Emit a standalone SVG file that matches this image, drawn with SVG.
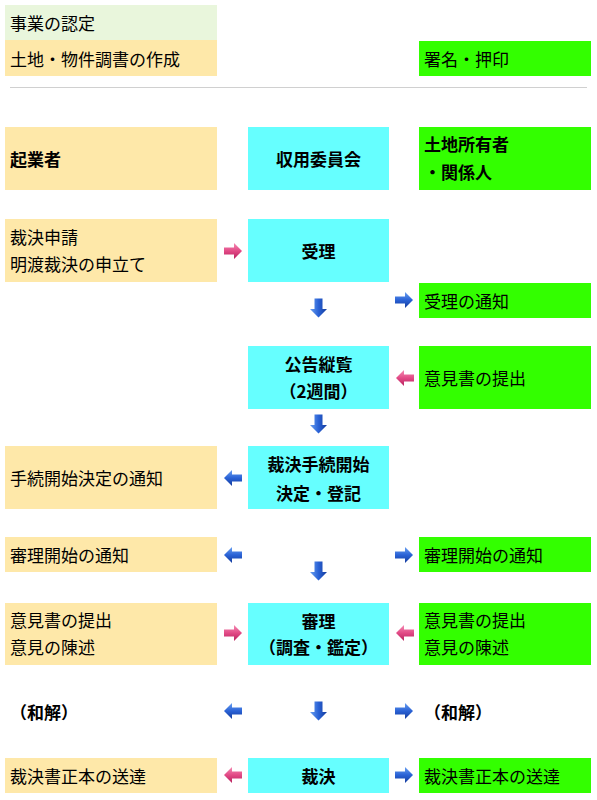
<svg xmlns="http://www.w3.org/2000/svg" width="597" height="800" viewBox="0 0 597 800">
<style>
text{font-family:"Noto Sans CJK JP","Noto Sans",sans-serif;font-size:17px;fill:#000;dominant-baseline:central}
.b{font-weight:bold}
.c{text-anchor:middle}
.y{fill:#fee8a9}
.g{fill:#33ff00}
.k{fill:#66ffff}
.lg{fill:#e9f6dc}
</style>
<defs>
<linearGradient id="pk" x1="0" y1="0" x2="0" y2="1">
<stop offset="0" stop-color="#f48cb4"/><stop offset="0.5" stop-color="#e24a86"/><stop offset="1" stop-color="#b8225e"/>
</linearGradient>
<linearGradient id="bl" x1="0" y1="0" x2="0" y2="1">
<stop offset="0" stop-color="#6aa0f0"/><stop offset="0.5" stop-color="#2a62d6"/><stop offset="1" stop-color="#143c9c"/>
</linearGradient>
<linearGradient id="bld" x1="0" y1="0" x2="1" y2="0">
<stop offset="0" stop-color="#6aa0f0"/><stop offset="0.5" stop-color="#2a62d6"/><stop offset="1" stop-color="#143c9c"/>
</linearGradient>
<polygon id="ar" points="-9,-3.5 1,-3.5 1,-8 9,0 1,8 1,3.5 -9,3.5"/>
<polygon id="ad" points="-4,-9.5 4,-9.5 4,1 8.5,1 0,9.5 -8.5,1 -4,1"/>
</defs>

<g id="n-jigyo"><rect class="lg" x="5" y="5" width="212" height="35"/><text x="10" y="22">事業の認定</text></g>
<g id="n-chosho"><rect class="y" x="5" y="40" width="212" height="36"/><text x="10" y="58">土地・物件調書の作成</text></g>
<g id="n-shomei"><rect class="g" x="419" y="41" width="172" height="35"/><text x="424" y="58">署名・押印</text></g>
<line x1="10" y1="87.5" x2="587" y2="87.5" stroke="#d0d0d0" stroke-width="1"/>

<g id="n-kigyo"><rect class="y" x="5" y="127" width="212" height="63"/><text class="b" x="10" y="158">起業者</text></g>
<g id="n-iinkai"><rect class="k" x="248" y="127" width="141" height="63"/><text class="b c" x="318.5" y="158">収用委員会</text></g>
<g id="n-shoyu"><rect class="g" x="419" y="127" width="172" height="63"/><text class="b" x="424" y="143">土地所有者</text><text class="b" x="424" y="171">・関係人</text></g>

<g id="n-shinsei"><rect class="y" x="5" y="219" width="212" height="63"/><text x="10" y="236">裁決申請</text><text x="10" y="263">明渡裁決の申立て</text></g>
<g id="n-juri"><rect class="k" x="248" y="219" width="141" height="63"/><text class="b c" x="318.5" y="250">受理</text></g>
<g id="n-juri-tsuchi"><rect class="g" x="419" y="283" width="172" height="35"/><text x="424" y="300">受理の通知</text></g>

<g id="n-koukoku"><rect class="k" x="248" y="346" width="141" height="63"/><text class="b c" x="318.5" y="363">公告縦覧</text><text class="b c" x="318.5" y="390">（2週間）</text></g>
<g id="n-iken1"><rect class="g" x="419" y="346" width="172" height="63"/><text x="424" y="377">意見書の提出</text></g>

<g id="n-kaishi-tsuchi"><rect class="y" x="5" y="446" width="212" height="63"/><text x="10" y="477">手続開始決定の通知</text></g>
<g id="n-kaishi"><rect class="k" x="248" y="446" width="141" height="63"/><text class="b c" x="318.5" y="463">裁決手続開始</text><text class="b c" x="318.5" y="492">決定・登記</text></g>

<g id="n-shinri-tsuchi-l"><rect class="y" x="5" y="537" width="212" height="35"/><text x="10" y="554">審理開始の通知</text></g>
<g id="n-shinri-tsuchi-r"><rect class="g" x="419" y="537" width="172" height="35"/><text x="424" y="554">審理開始の通知</text></g>

<g id="n-iken-l"><rect class="y" x="5" y="603" width="212" height="62"/><text x="10" y="619">意見書の提出</text><text x="10" y="646">意見の陳述</text></g>
<g id="n-shinri"><rect class="k" x="248" y="603" width="141" height="62"/><text class="b c" x="318.5" y="620">審理</text><text class="b c" x="318.5" y="646">（調査・鑑定）</text></g>
<g id="n-iken-r"><rect class="g" x="419" y="603" width="172" height="62"/><text x="424" y="619">意見書の提出</text><text x="424" y="646">意見の陳述</text></g>

<g id="n-wakai-l"><text class="b" x="10" y="711">（和解）</text></g>
<g id="n-wakai-r"><text class="b" x="424" y="711">（和解）</text></g>

<g id="n-sotatsu-l"><rect class="y" x="5" y="758" width="212" height="35"/><text x="10" y="775">裁決書正本の送達</text></g>
<g id="n-saiketsu"><rect class="k" x="248" y="758" width="141" height="35"/><text class="b c" x="318.5" y="775">裁決</text></g>
<g id="n-sotatsu-r"><rect class="g" x="419" y="758" width="172" height="35"/><text x="424" y="775">裁決書正本の送達</text></g>

<g id="connectors">
<use href="#ar" fill="url(#pk)" transform="translate(233,251)"/>
<use href="#ad" fill="url(#bld)" transform="translate(318.5,308)"/>
<use href="#ar" fill="url(#bl)" transform="translate(404,300)"/>
<use href="#ar" fill="url(#pk)" transform="translate(405,378) scale(-1,1)"/>
<use href="#ad" fill="url(#bld)" transform="translate(318.5,424)"/>
<use href="#ar" fill="url(#bl)" transform="translate(233,478) scale(-1,1)"/>
<use href="#ar" fill="url(#bl)" transform="translate(233,555) scale(-1,1)"/>
<use href="#ar" fill="url(#bl)" transform="translate(404,555)"/>
<use href="#ad" fill="url(#bld)" transform="translate(318.5,571)"/>
<use href="#ar" fill="url(#pk)" transform="translate(233,633)"/>
<use href="#ar" fill="url(#pk)" transform="translate(405,633) scale(-1,1)"/>
<use href="#ar" fill="url(#bl)" transform="translate(233,711) scale(-1,1)"/>
<use href="#ad" fill="url(#bld)" transform="translate(318.5,711)"/>
<use href="#ar" fill="url(#bl)" transform="translate(404,711)"/>
<use href="#ar" fill="url(#pk)" transform="translate(233,775) scale(-1,1)"/>
<use href="#ar" fill="url(#bl)" transform="translate(404,775)"/>
</g>
</svg>
